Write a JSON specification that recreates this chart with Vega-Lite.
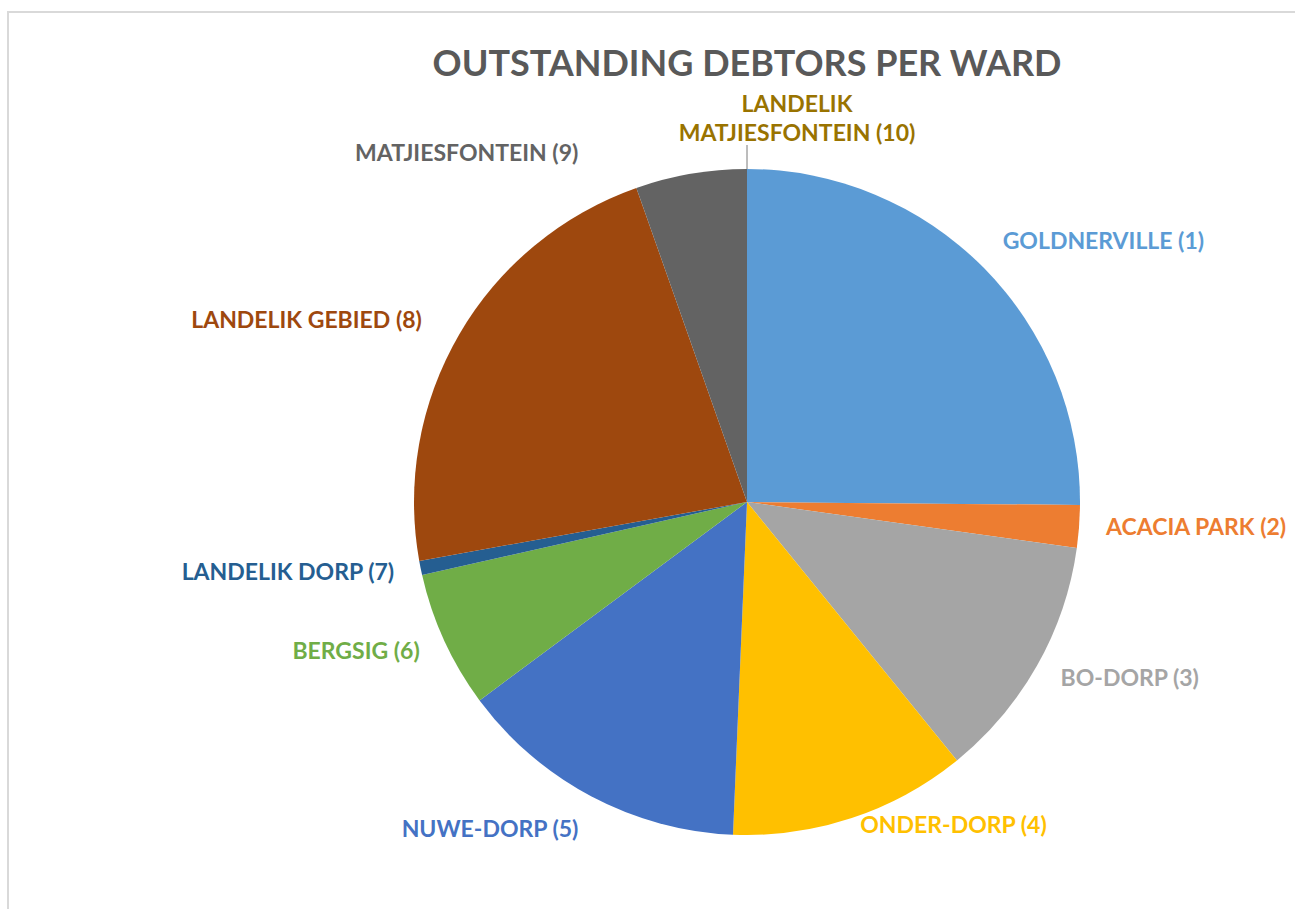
{
  "$schema": "https://vega.github.io/schema/vega-lite/v6.json",
  "autosize": {"type": "none"},
  "padding": {"left": 8, "top": 12, "right": 0, "bottom": 0},
  "width": 1478,
  "height": 980,
  "background": "white",
  "config": {
    "view": {"stroke": null},
    "font": "Lato"
  },
  "title": {
    "text": "OUTSTANDING DEBTORS PER WARD",
    "font": "Lato",
    "fontSize": 36,
    "fontWeight": "bold",
    "color": "#595959",
    "anchor": "middle",
    "frame": "group",
    "baseline": "alphabetic",
    "offset": -101
  },
  "datasets": {
    "wards": [
      {"ward": 1, "name": "GOLDNERVILLE (1)", "value": 25.14},
      {"ward": 2, "name": "ACACIA PARK (2)", "value": 2.06},
      {"ward": 3, "name": "BO-DORP (3)", "value": 11.94},
      {"ward": 4, "name": "ONDER-DORP (4)", "value": 11.53},
      {"ward": 5, "name": "NUWE-DORP (5)", "value": 14.17},
      {"ward": 6, "name": "BERGSIG (6)", "value": 6.64},
      {"ward": 7, "name": "LANDELIK DORP (7)", "value": 0.69},
      {"ward": 8, "name": "LANDELIK GEBIED (8)", "value": 22.44},
      {"ward": 9, "name": "MATJIESFONTEIN (9)", "value": 5.39},
      {"ward": 10, "name": "LANDELIK\nMATJIESFONTEIN (10)", "value": 0}
    ],
    "frame": [{"box": "chart area"}]
  },
  "layer": [
    {
      "data": {"name": "frame"},
      "mark": {"type": "rect", "fill": null, "stroke": "#D9D9D9", "strokeWidth": 2},
      "encoding": {}
    },
    {
      "data": {"name": "wards"},
      "mark": {"type": "arc", "outerRadius": 333, "stroke": null},
      "encoding": {
        "theta": {"field": "value", "type": "quantitative", "stack": true},
        "order": {"field": "ward", "type": "quantitative", "sort": "ascending"},
        "color": {
          "field": "name",
          "type": "nominal",
          "legend": null,
          "scale": {
            "domain": ["GOLDNERVILLE (1)", "ACACIA PARK (2)", "BO-DORP (3)", "ONDER-DORP (4)", "NUWE-DORP (5)", "BERGSIG (6)", "LANDELIK DORP (7)", "LANDELIK GEBIED (8)", "MATJIESFONTEIN (9)", "LANDELIK\nMATJIESFONTEIN (10)"],
            "range": ["#5B9BD5", "#ED7D31", "#A5A5A5", "#FFC000", "#4472C4", "#70AD47", "#255E91", "#9E480E", "#636363", "#997300"]
          }
        }
      }
    },
    {
      "data": {"name": "wards"},
      "mark": {"type": "arc", "radius": 357, "radius2": 333, "fillOpacity": 0, "stroke": "#A6A6A6", "strokeWidth": 1},
      "encoding": {
        "theta": {"field": "value", "type": "quantitative", "stack": true},
        "order": {"field": "ward", "type": "quantitative", "sort": "ascending"},
        "strokeOpacity": {"condition": {"test": "datum.ward == 10", "value": 1}, "value": 0}
      }
    },
    {
      "data": {"name": "wards"},
      "mark": {
        "type": "text",
        "radius": 360,
        "fontSize": 23,
        "fontWeight": "bold",
        "font": "Lato",
        "lineBreak": "\n",
        "lineHeight": 29,
        "baseline": "middle",
        "align": {"expr": "datum.ward <= 4 ? 'left' : (datum.ward == 10 ? 'center' : 'right')"},
        "dx": {"expr": "datum.ward == 9 ? -108 : (datum.ward == 10 ? 50 : (datum.ward == 8 ? -14 : 0))"},
        "dy": {"expr": "datum.ward == 4 ? -18 : (datum.ward == 5 ? 10 : (datum.ward == 9 ? 7 : (datum.ward == 10 ? -37 : (datum.ward == 1 ? -7 : 0))))"}
      },
      "encoding": {
        "theta": {"field": "value", "type": "quantitative", "stack": true},
        "order": {"field": "ward", "type": "quantitative", "sort": "ascending"},
        "text": {"field": "name", "type": "nominal"},
        "color": {"field": "name", "type": "nominal", "legend": null}
      }
    }
  ]
}
